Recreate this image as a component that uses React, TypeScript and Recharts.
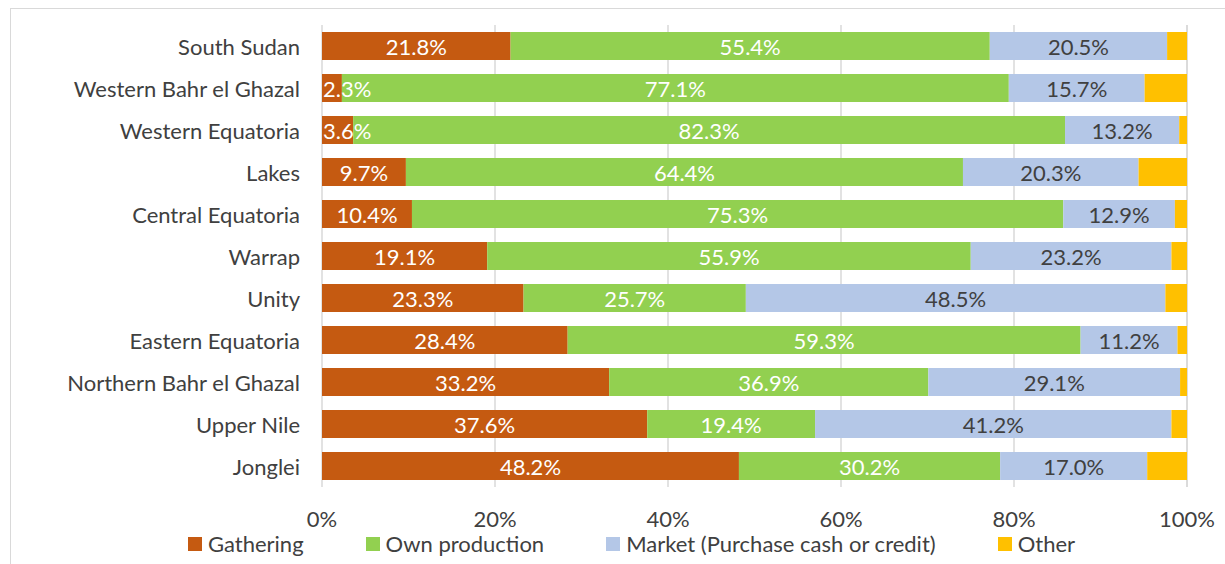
import React from 'react';
import { BarChart, Bar, XAxis, YAxis, CartesianGrid, LabelList } from 'recharts';

const regions = [
  'South Sudan',
  'Western Bahr el Ghazal',
  'Western Equatoria',
  'Lakes',
  'Central Equatoria',
  'Warrap',
  'Unity',
  'Eastern Equatoria',
  'Northern Bahr el Ghazal',
  'Upper Nile',
  'Jonglei',
];
const gathering = [21.8, 2.3, 3.6, 9.7, 10.4, 19.1, 23.3, 28.4, 33.2, 37.6, 48.2];
const ownProduction = [55.4, 77.1, 82.3, 64.4, 75.3, 55.9, 25.7, 59.3, 36.9, 19.4, 30.2];
const market = [20.5, 15.7, 13.2, 20.3, 12.9, 23.2, 48.5, 11.2, 29.1, 41.2, 17.0];
const other = [2.3, 4.9, 0.9, 5.6, 1.4, 1.8, 2.5, 1.1, 0.8, 1.8, 4.6];
const xTicks = [0, 20, 40, 60, 80, 100];

const seriesNames = ['Gathering', 'Own production', 'Market (Purchase cash or credit)', 'Other'];
const seriesColors = ['#C55A11', '#92D050', '#B4C7E7', '#FFC000'];

const data = regions.map((r, i) => ({
  region: r,
  gathering: gathering[i],
  own: ownProduction[i],
  market: market[i],
  other: other[i],
}));

const FONT = 'Lato, "Noto Sans", sans-serif';
const FS = 22;
const TEXT = '#404040';

const makeLabel = (color: string) => (props: any) => {
  const { x, y, width, height, value } = props;
  const txt = `${Number(value).toFixed(1)}%`;
  const est = txt.length * FS * 0.52;
  const fits = est <= width;
  return (
    <text
      x={fits ? x + width / 2 : x + 1}
      y={y + height / 2}
      textAnchor={fits ? 'middle' : 'start'}
      dominantBaseline="central"
      fill={color}
      fontSize={FS}
      fontFamily={FONT}
    >
      {txt}
    </text>
  );
};

const YTick = (props: any) => {
  const { x, y, payload } = props;
  return (
    <text x={x - 22} y={y} textAnchor="end" dominantBaseline="central" fill={TEXT} fontSize={FS} fontFamily={FONT}>
      {payload.value}
    </text>
  );
};

const XTick = (props: any) => {
  const { x, y, payload } = props;
  return (
    <text x={x} y={y + 31} textAnchor="middle" dominantBaseline="central" fill={TEXT} fontSize={FS} fontFamily={FONT}>
      {`${payload.value}%`}
    </text>
  );
};

export default function App() {
  return (
    <div style={{ position: 'absolute', left: 0, top: 0, width: 1225, height: 564, overflow: 'hidden', background: '#fff' }}>
      <div
        style={{
          position: 'absolute',
          left: 10,
          top: 8,
          width: 1400,
          height: 700,
          borderLeft: '1px solid #d9d9d9',
          borderTop: '1px solid #d9d9d9',
        }}
      />
      <div style={{ position: 'absolute', left: 0, top: 0 }}>
        <BarChart
          width={1225}
          height={564}
          data={data}
          layout="vertical"
          margin={{ top: 25, right: 38, bottom: 37, left: 0 }}
          barSize={28}
        >
          <CartesianGrid horizontal={false} stroke="#d9d9d9" strokeWidth={1.5} />
          <XAxis
            type="number"
            domain={[0, 100]}
            ticks={xTicks}
            axisLine={false}
            tickLine={false}
            tickSize={0}
            tickMargin={0}
            height={40}
            tick={<XTick />}
            interval={0}
          />
          <YAxis
            type="category"
            dataKey="region"
            width={322}
            axisLine={false}
            tickLine={false}
            tickSize={0}
            tickMargin={0}
            tick={<YTick />}
            interval={0}
          />
          <Bar dataKey="gathering" stackId="a" fill={seriesColors[0]} isAnimationActive={false}>
            <LabelList dataKey="gathering" content={makeLabel('#ffffff')} />
          </Bar>
          <Bar dataKey="own" stackId="a" fill={seriesColors[1]} isAnimationActive={false}>
            <LabelList dataKey="own" content={makeLabel('#ffffff')} />
          </Bar>
          <Bar dataKey="market" stackId="a" fill={seriesColors[2]} isAnimationActive={false}>
            <LabelList dataKey="market" content={makeLabel(TEXT)} />
          </Bar>
          <Bar dataKey="other" stackId="a" fill={seriesColors[3]} isAnimationActive={false} />
        </BarChart>
      </div>
      <div
        style={{
          position: 'absolute',
          left: 188,
          top: 534,
          display: 'flex',
          alignItems: 'center',
          gap: 62,
          fontFamily: FONT,
          fontSize: FS,
          color: TEXT,
          whiteSpace: 'nowrap',
          lineHeight: '19px',
        }}
      >
        {seriesNames.map((n, i) => (
          <div key={n} style={{ display: 'flex', alignItems: 'center' }}>
            <span style={{ display: 'inline-block', width: 14, height: 14, background: seriesColors[i], marginRight: 6 }} />
            <span>{n}</span>
          </div>
        ))}
      </div>
    </div>
  );
}
